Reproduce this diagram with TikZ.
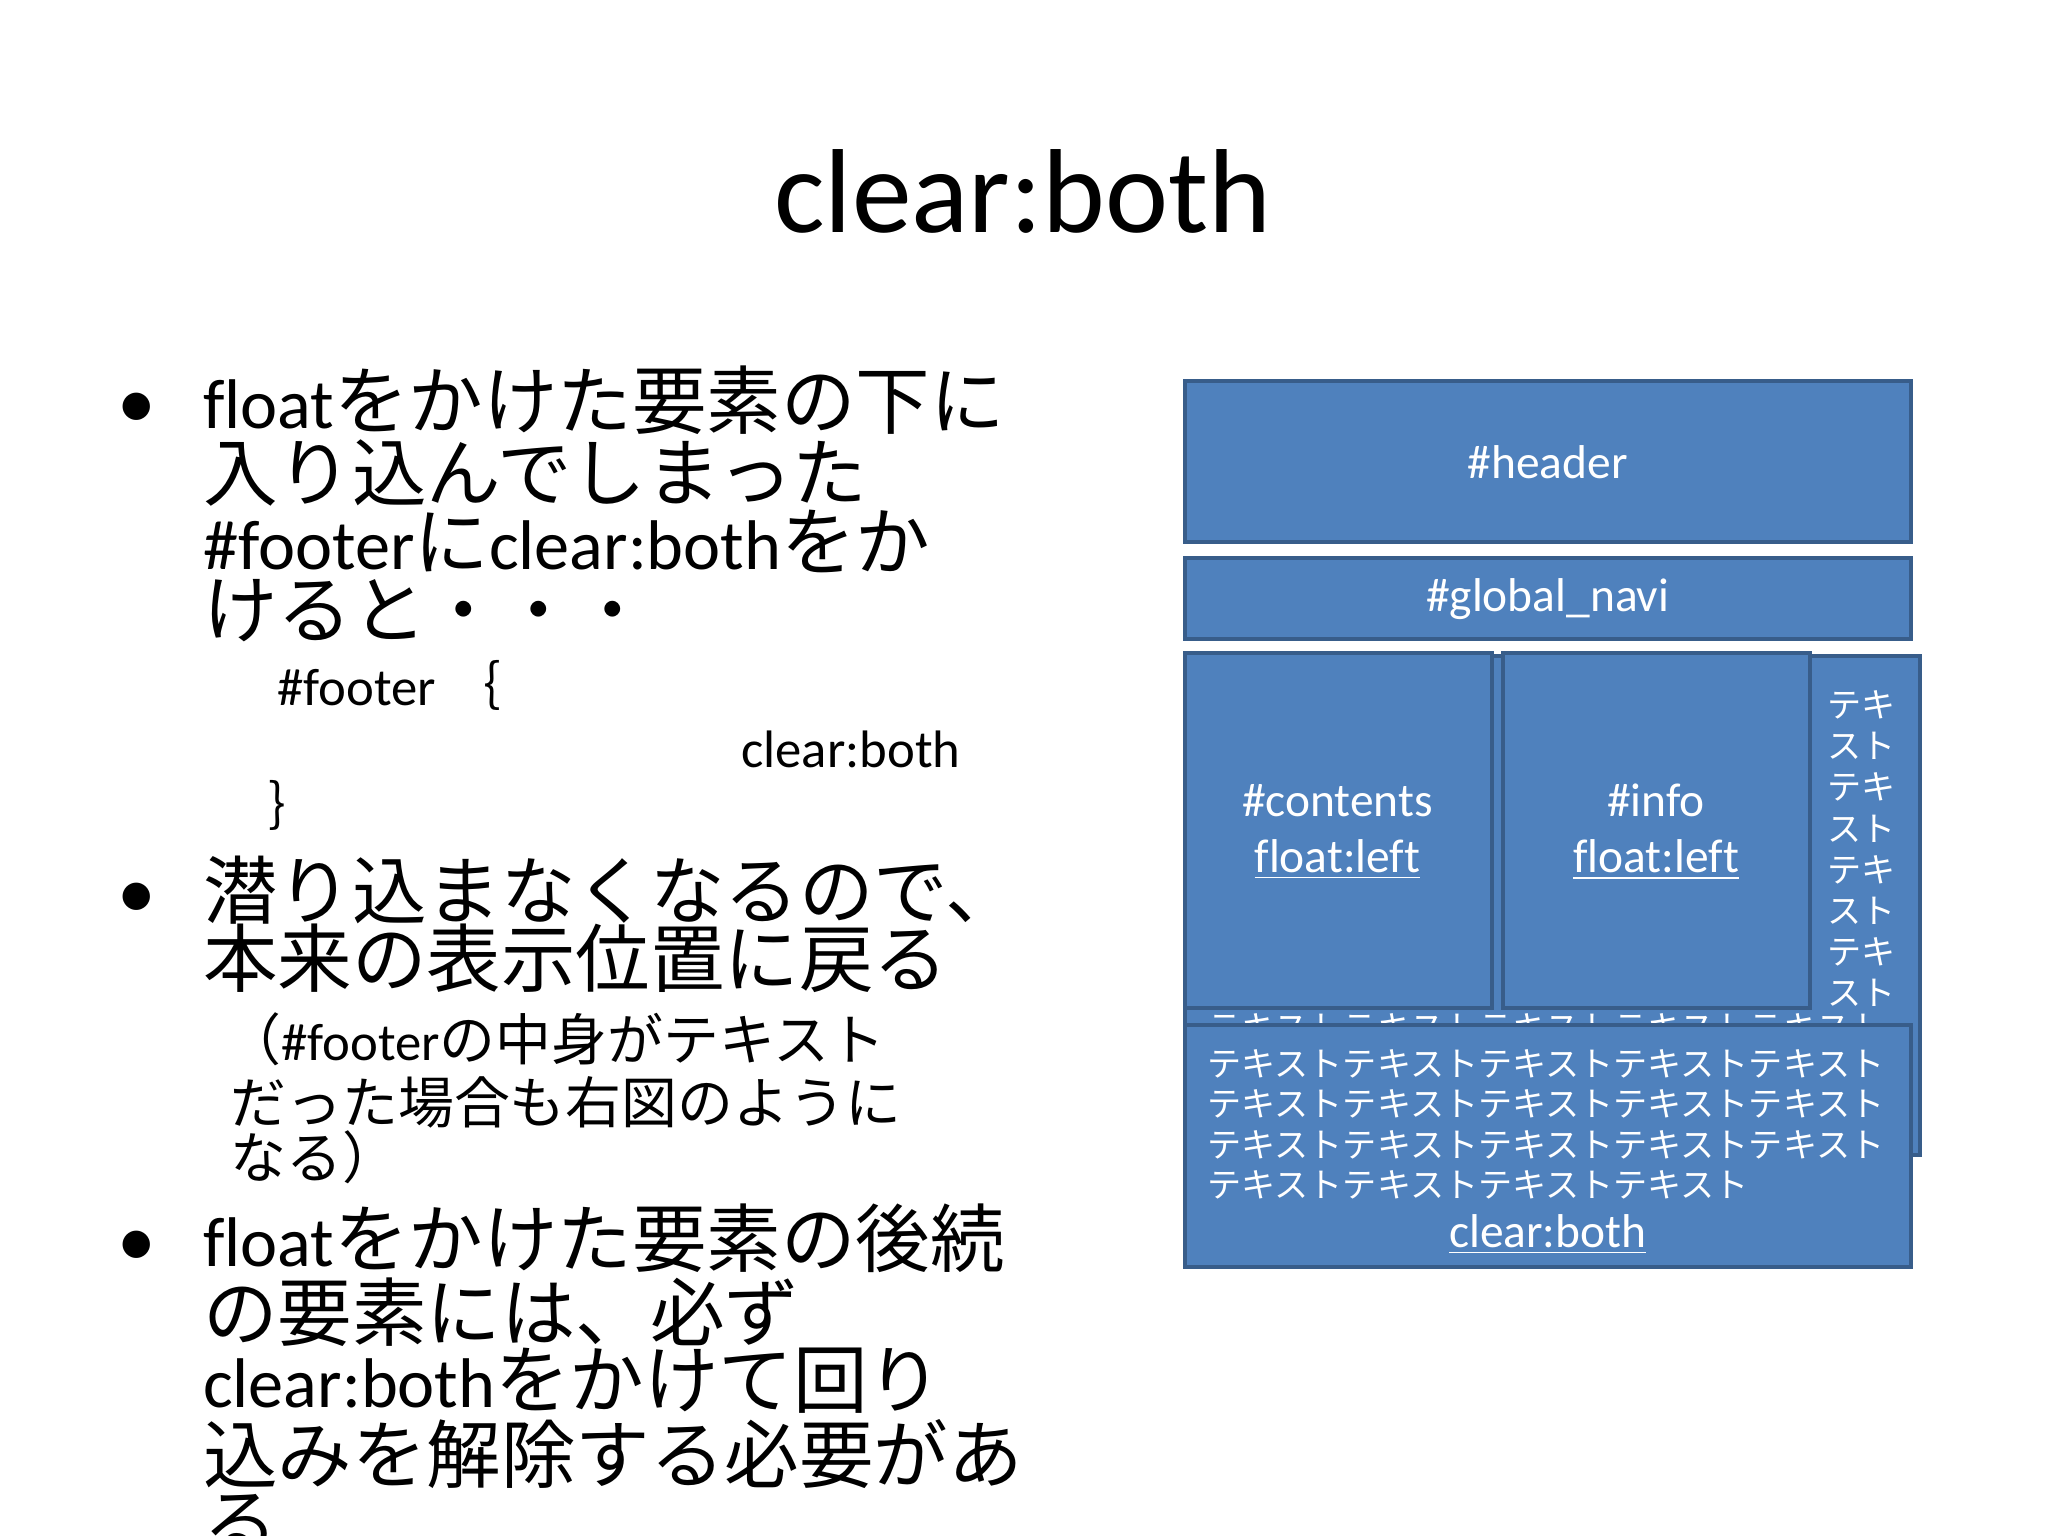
\documentclass[tikz,border=0pt]{standalone}
\usepackage{fontspec}
\setmainfont[RawFeature={-liga}]{Carlito}
\newfontfamily\jp{Noto Sans CJK JP}
\newfontfamily\jpb[Scale=1.06]{Noto Sans CJK JP}
\definecolor{boxfill}{HTML}{4F81BD}
\definecolor{boxline}{HTML}{385D8A}
\begin{document}
\begin{tikzpicture}[x=0.013061cm,y=-0.013061cm,
  blk/.style={fill=boxfill,draw=boxline,line width=1.1pt},
  big/.style={anchor=base west,inner sep=0pt,font=\fontsize{20}{24}\selectfont},
  mid/.style={anchor=base west,inner sep=0pt,font=\fontsize{15}{18}\selectfont},
  wt/.style={text=white,inner sep=0pt,font=\fontsize{13.5}{16}\selectfont},
  jt/.style={text=white,inner sep=0pt,anchor=base west,font=\jp\fontsize{9.7}{11}\selectfont},
  bul/.style={anchor=base,inner sep=0pt,font=\fontsize{22}{24}\selectfont}]
\useasboundingbox (0,0) rectangle (1568,1176);
\fill[white] (0,0) rectangle (1568,1176);
\node[inner sep=0pt,anchor=base,font=\fontsize{34}{40}\selectfont] (title) at (783,178) {clear:both};
% bullets
\node[bul] (b1) at (105,328) {•};
\node[big] (l1) at (155,328) {float{\jpb をかけた要素の下に}};
\node[big] (l2) at (155,383) {\jpb 入り込んでしまった};
\node[big] (l3) at (155,436) {\#footer{\jpb に}clear:both{\jpb をか}};
\node[big] (l4) at (155,488) {\jpb けると・・・};
\node[mid] (c1) at (212,540) {\#footer {\jp ｛}};
\node[mid] (c2) at (567,588) {clear:both};
\node[mid] (c3) at (205,632) {\jp ｝};
\node[bul] (b2) at (105,703) {•};
\node[big] (l5) at (155,703) {\jpb 潜り込まなくなるので、};
\node[big] (l6) at (155,755) {\jpb 本来の表示位置に戻る};
\node[mid] (m1) at (172,812) {{\jpb （}\#footer{\jpb の中身がテキスト}};
\node[mid] (m2) at (176,860) {\jpb だった場合も右図のように};
\node[mid] (m3) at (176,902) {\jpb なる）};
\node[bul] (b3) at (105,970) {•};
\node[big] (l7) at (155,970) {float{\jpb をかけた要素の後続}};
\node[big] (l8) at (155,1026) {\jpb の要素には、必ず};
\node[big] (l9) at (155,1078) {clear:both{\jpb をかけて回り}};
\node[big] (l10) at (155,1135) {\jpb 込みを解除する必要があ};
\node[big] (l11) at (155,1187) {\jpb る};
% diagram
\draw[blk] (907,292) rectangle (1463,415);
\node[wt] (hd) at (1185,354) {\#header};
\draw[blk] (907,427) rectangle (1463,489);
\node[wt] (gn) at (1185,459) {\#global\_navi};
\draw[blk] (907,502) rectangle (1470,884);
\foreach \i/\t in {0/テキ,1/スト,2/テキ,3/スト,4/テキ,5/スト,6/テキ,7/スト}
  \node[text=white,inner sep=0pt,font=\jp\fontsize{9.7}{11}\selectfont] (v\i) at (1425,540+31.4*\i) {\t};
\node[jt] (hid) at (924,797) {テキストテキストテキストテキストテキスト};
\draw[blk] (907,500) rectangle (1142,772);
\node[wt,align=center] (ct) at (1024,637) {\#contents\\[0pt]\underline{float:left}};
\draw[blk] (1151,500) rectangle (1386,772);
\node[wt,align=center] (in) at (1268,637) {\#info\\[0pt]\underline{float:left}};
\draw[blk] (907,785) rectangle (1463,970);
\foreach \i/\t in {0/テキストテキストテキストテキストテキスト,1/テキストテキストテキストテキストテキスト,2/テキストテキストテキストテキストテキスト,3/テキストテキストテキストテキスト}
  \node[jt] (f\i) at (924,824+31*\i) {\t};
\node[wt] (cb) at (1185,945) {\underline{clear:both}};
\end{tikzpicture}
\end{document}
